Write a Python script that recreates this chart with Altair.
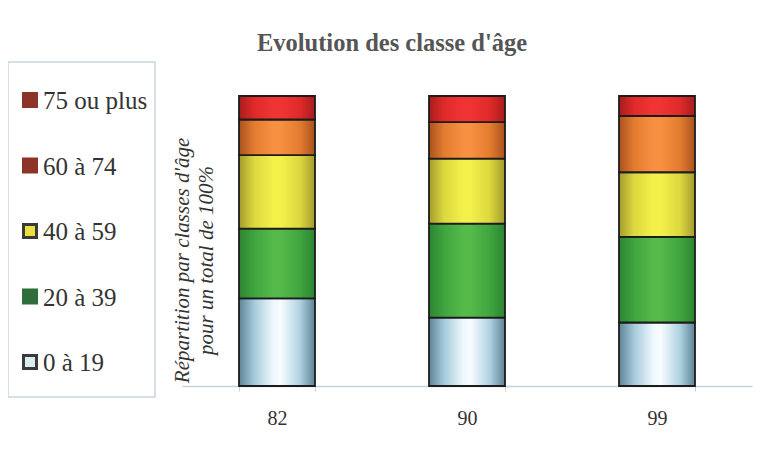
import altair as alt
import pandas as pd

# ---- data ----
years = ["82", "90", "99"]
categories = ["0 à 19", "20 à 39", "40 à 59", "60 à 74", "75 ou plus"]
values_82 = [30.2, 24.1, 25.3, 12.3, 8.1]
values_90 = [23.6, 32.4, 22.4, 12.6, 9.0]
values_99 = [21.9, 29.5, 22.3, 19.4, 6.9]
legend_order = ["75 ou plus", "60 à 74", "40 à 59", "20 à 39", "0 à 19"]

title_text = "Evolution des classe d'âge"
y_title = ["Répartition par classes d'âge", "pour un total de 100%"]

rows = []
for yr, vals in zip(years, [values_82, values_90, values_99]):
    for i, (c, v) in enumerate(zip(categories, vals)):
        rows.append({"year": yr, "cat": c, "value": v, "order": i})
df = pd.DataFrame(rows)
legend_df = pd.DataFrame({"cat": legend_order})

# ---- styles ----
bar_grad = {
    "0 à 19": ["#5d8394", "#a6cadb", "#eef8fd", "#f7fcff", "#b0d2e2", "#5d8394"],
    "20 à 39": ["#2b8531", "#3fa53e", "#55ba4a", "#55ba4a", "#3fa53e", "#2b8531"],
    "40 à 59": ["#a39b2e", "#dcd83e", "#f4f04a", "#f4f04a", "#dcd83e", "#a39b2e"],
    "60 à 74": ["#a9521e", "#e47c30", "#f79040", "#f79040", "#e47c30", "#a9521e"],
    "75 ou plus": ["#a81c1c", "#e02a2a", "#f03434", "#f03434", "#e02a2a", "#a81c1c"],
}
offsets = [0, 0.2, 0.45, 0.55, 0.8, 1]
legend_fill = ["#8c3427", "#8c3427", "#e8e040", "#2f6e3a", "#dcebec"]
legend_stroke = ["#8c3427", "#8c3427", "#3a3a3a", "#2f6e3a", "#3a3a3a"]

serif = "Liberation Serif"

x_enc = alt.X(
    "year:N",
    sort=years,
    scale=alt.Scale(paddingInner=0.6, paddingOuter=0.3),
    axis=alt.Axis(
        title=None, labelAngle=0, labelFont=serif, labelFontSize=20,
        labelColor="#333333", labelPadding=17, domainColor="#c5d2da",
        domainWidth=1.5, tickColor="#c5d2da", tickSize=5, tickBand="extent",
    ),
)
y_enc = alt.Y(
    "y0:Q",
    scale=alt.Scale(domain=[0, 100]),
    axis=alt.Axis(
        title=y_title, labels=False, ticks=False, domain=False, grid=False,
        titleFont=serif, titleFontSize=21, titleFontStyle="italic",
        titleFontWeight="normal", titleColor="#333333", titleLineHeight=24,
        titleAlign="center", titleBaseline="top", titleX=-11, titleY=164,
        titleAngle=270,
    ),
)

base = alt.Chart(df).transform_stack(
    stack="value", as_=["y0", "y1"], groupby=["year"],
    sort=[alt.SortField("order", order="ascending")],
)

bar_layers = []
for c in categories:
    g = alt.Gradient(
        gradient="linear", x1=0, x2=1, y1=0, y2=0,
        stops=[alt.GradientStop(offset=o, color=col) for o, col in zip(offsets, bar_grad[c])],
    )
    bar_layers.append(
        base.transform_filter(alt.datum.cat == c)
        .mark_bar(fill=g, stroke="#1c1c1c", strokeWidth=1.8)
        .encode(x=x_enc, y=y_enc, y2="y1:Q")
    )
bars = alt.layer(*bar_layers)

ly = alt.Y("cat:N", sort=legend_order,
           scale=alt.Scale(type="point", range=[4, 266], padding=0), axis=None)
leg_sq = alt.Chart(legend_df).mark_square(size=169, strokeWidth=3, opacity=1).encode(
    x=alt.value(-152),
    y=ly,
    fill=alt.Fill("cat:N", scale=alt.Scale(domain=legend_order, range=legend_fill), legend=None),
    stroke=alt.Stroke("cat:N", scale=alt.Scale(domain=legend_order, range=legend_stroke), legend=None),
)
leg_txt = alt.Chart(legend_df).mark_text(
    align="left", baseline="middle", font=serif, fontSize=25, color="#333333", dy=1
).encode(x=alt.value(-139), y=ly, text="cat:N")
legend = alt.layer(leg_sq, leg_txt)

box = alt.Chart(pd.DataFrame({"k": [0]})).mark_rect(
    fillOpacity=0, stroke="#c6d5de", strokeWidth=1.5
).encode(x=alt.value(-174), x2=alt.value(-27), y=alt.value(-34), y2=alt.value(301))

chart = (
    alt.layer(box, bars, legend)
    .resolve_scale(y="independent")
    .properties(
        width=570, height=290,
        background="white",
        title=alt.TitleParams(
            title_text, font=serif, fontSize=24.5, fontWeight="bold", color="#555555",
            anchor="middle", frame="group", dx=-75, dy=23, offset=9, baseline="alphabetic",
        ),
        autosize=alt.AutoSizeParams(type="none"),
        padding={"left": 174, "top": 88, "right": 4, "bottom": 59},
    )
    .configure_view(strokeWidth=0, strokeOpacity=0)
)

chart.save("out.html", embed_options={"renderer": "svg", "actions": False})
